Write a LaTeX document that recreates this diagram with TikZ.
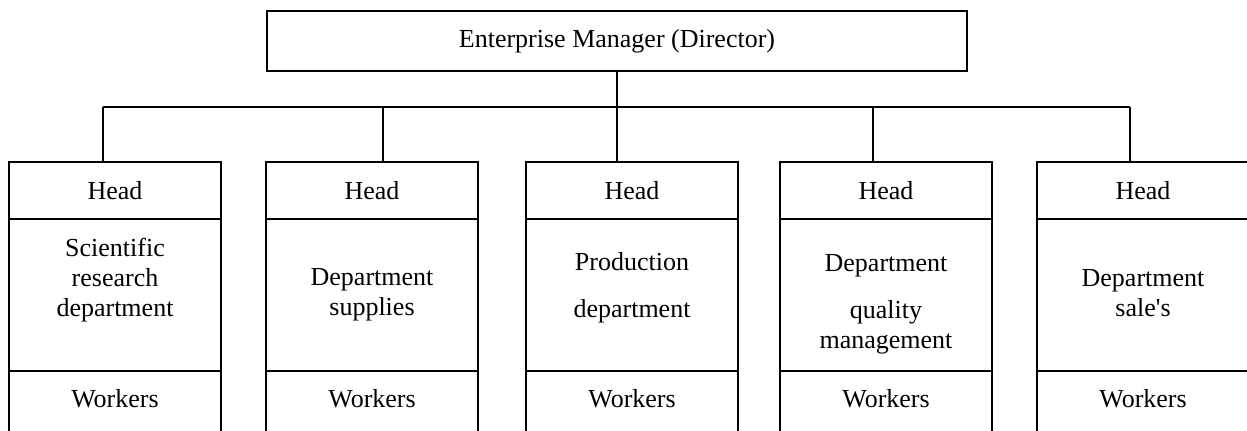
\documentclass[tikz,border=0pt]{standalone}
\usepackage{fontspec}
\setmainfont{Liberation Serif}
\usetikzlibrary{positioning}
\tikzset{
  box/.style={draw, line width=0.8pt, minimum width=106pt, inner sep=0pt, outer sep=0pt},
  link/.style={line width=0.8pt}
}
\begin{document}
\begin{tikzpicture}[x=0.5pt, y=-0.5pt, font=\fontsize{13}{15}\selectfont]
  \useasboundingbox (0,0) rectangle (1247,430);
  \clip (0,0) rectangle (1247,430);
  \node[box, minimum width=350pt, minimum height=30pt] (dir) at (617,41) {Enterprise Manager (Director)};
  % one column per department
  \foreach \i/\cx/\dx/\txt/\dy in {
    1/115/103/{Scientific\\research\\department}/7.5,
    2/372/383/{Department\\supplies}/0,
    3/632/617/{Production\\[8.5pt]department}/3.65,
    4/886/873/{Department\\[8.5pt]quality\\management}/-4.85,
    5/1143/1130/{Department\\sale\textquotesingle s}/0.8}{
    \node[box, minimum height=28.5pt, anchor=north] (head\i) at (\cx,162) {Head};
    \node[box, minimum height=76pt, below=0pt of head\i] (dept\i) {};
    \node[align=center, yshift=\dy pt] (name\i) at (dept\i.center) {\txt};
    \node[box, minimum height=34.5pt, text height=9pt, text depth=7.5pt, below=0pt of dept\i] (work\i) {Workers};
    \coordinate (bus\i) at (\dx,107);
    \draw[link] (bus\i) -- (bus\i |- head\i.north);
  }
  \draw[link] (bus1) -- (bus5);
  \draw[link] (dir.south) -- (dir.south |- bus1);
\end{tikzpicture}
\end{document}
